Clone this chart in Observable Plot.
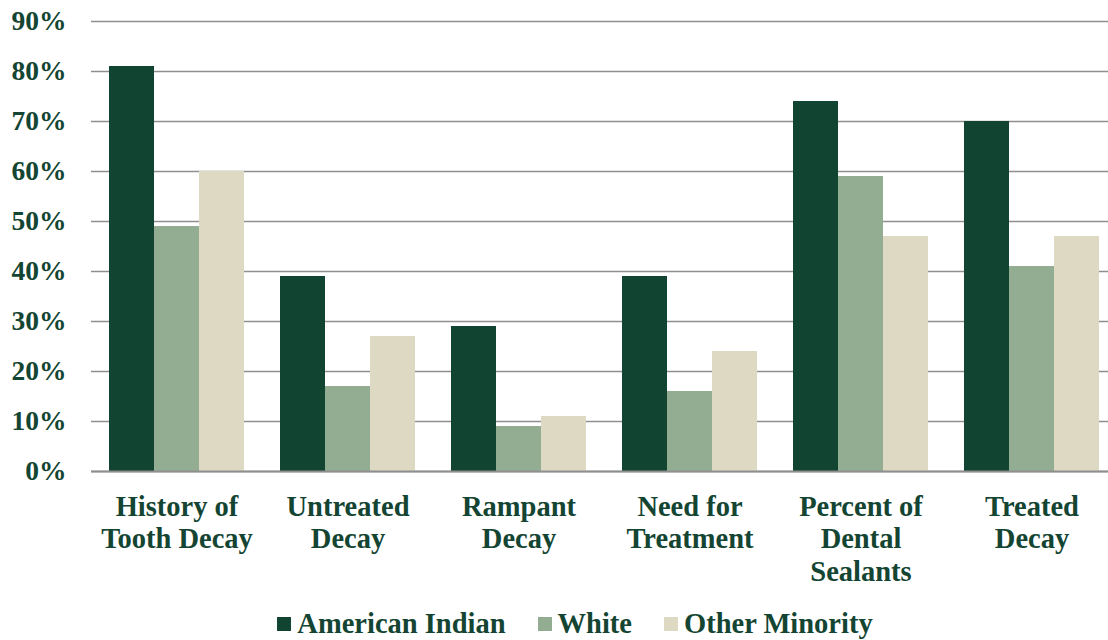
<!DOCTYPE html>
<html>
<head>
<meta charset="utf-8">
<script src="https://cdn.jsdelivr.net/npm/d3@7"></script>
<script src="https://cdn.jsdelivr.net/npm/@observablehq/plot@0.6"></script>
<style>
  html, body { margin: 0; padding: 0; background: #fff; }
  body { width: 1108px; height: 640px; overflow: hidden; font-family: "Liberation Serif", "Times New Roman", serif; }
  #chart { width: 1108px; height: 600px; overflow: hidden; }
  #legend { display: flex; justify-content: center; align-items: center; height: 40px; margin-top: 4px; padding-left: 42px;
    font-size: 28.5px; font-weight: bold; color: #134532; }
  .item { display: flex; align-items: center; margin: 0 16px; }
  .sw { width: 14px; height: 14px; margin-right: 6px; display: inline-block; }
</style>
</head>
<body>
<div id="chart"></div>
<div id="legend"></div>
<script>
const categories = ["History of Tooth Decay", "Untreated Decay", "Rampant Decay", "Need for Treatment", "Percent of Dental Sealants", "Treated Decay"];
const categoryLabels = ["History of\nTooth Decay", "Untreated\nDecay", "Rampant\nDecay", "Need for\nTreatment", "Percent of\nDental\nSealants", "Treated\nDecay"];
const series = ["American Indian", "White", "Other Minority"];
const colors = ["#114532", "#93ad92", "#ddd9c3"];
const americanIndian = [81, 39, 29, 39, 74, 70];
const white = [49, 17, 9, 16, 59, 41];
const otherMinority = [60, 27, 11, 24, 47, 47];
const yTicks = [0, 10, 20, 30, 40, 50, 60, 70, 80, 90];

const seriesValues = [americanIndian, white, otherMinority];
const rows = [];
categories.forEach((c, i) => series.forEach((s, j) => rows.push({cat: c, series: s, value: seriesValues[j][i]})));
const labelRows = categories.map((c, i) => ({cat: c, label: categoryLabels[i]}));

const textColor = "#134532";
const chart = Plot.plot({
  width: 1117,
  height: 600,
  marginLeft: 91,
  marginRight: 0,
  marginTop: 21,
  marginBottom: 129,
  style: {fontFamily: '"Liberation Serif", "Times New Roman", serif', fontSize: "27.5px", fontWeight: "bold", color: textColor, background: "white", maxWidth: "none"},
  fx: {domain: categories, padding: 0, axis: null},
  x: {domain: series, paddingInner: 0, paddingOuter: 0.372, axis: null},
  y: {domain: [0, 90], ticks: yTicks, tickFormat: d => d + "%", tickSize: 0, tickPadding: 25, label: null},
  color: {domain: series, range: colors},
  marks: [
    Plot.ruleY(yTicks, {stroke: "#8f8f8f", strokeWidth: 1.5}),
    Plot.barY(rows, {fx: "cat", x: "series", y: "value", fill: "series"}),
    Plot.ruleY([0], {stroke: "#8f8f8f", strokeWidth: 2}),
    Plot.text(labelRows, {fx: "cat", text: "label", frameAnchor: "bottom", lineAnchor: "top", dy: 21, lineHeight: 1.14, fontSize: 28.5, fontWeight: "bold", fill: textColor})
  ]
});
document.getElementById("chart").appendChild(chart);

const legend = document.getElementById("legend");
series.forEach((s, i) => {
  const item = document.createElement("div");
  item.className = "item";
  const sw = document.createElement("span");
  sw.className = "sw";
  sw.style.background = colors[i];
  item.appendChild(sw);
  item.appendChild(document.createTextNode(s));
  legend.appendChild(item);
});
</script>
</body>
</html>
